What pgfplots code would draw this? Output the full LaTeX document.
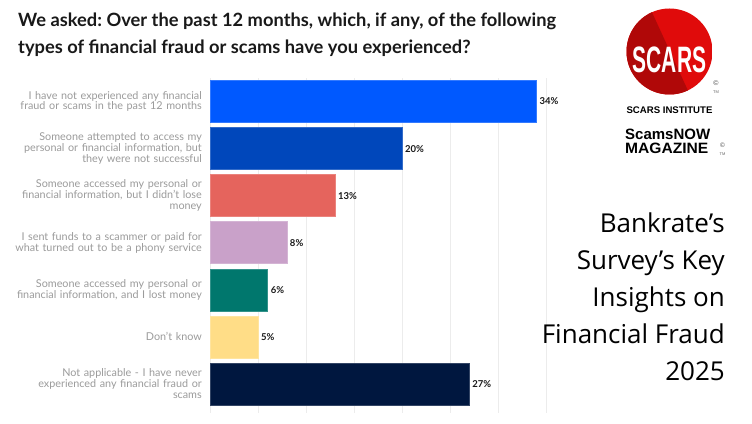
\documentclass[border=0pt]{standalone}
\usepackage{fontspec}
\setmainfont{Lato}
\newfontfamily\rfont{Open Sans}
\newfontfamily\lfont{Liberation Sans}
\usepackage{pgfplots}
\pgfplotsset{compat=1.18}
\frenchspacing
\definecolor{cA}{HTML}{0059FF}
\definecolor{cB}{HTML}{0047BB}
\definecolor{cC}{HTML}{E5645D}
\definecolor{cD}{HTML}{C9A1C9}
\definecolor{cE}{HTML}{00776D}
\definecolor{cF}{HTML}{FFDD87}
\definecolor{cG}{HTML}{00173F}
\definecolor{labgray}{HTML}{9B9B9B}
\definecolor{scarsred}{HTML}{E00B0B}
\definecolor{scarsdark}{HTML}{B00808}
\begin{document}
\begin{tikzpicture}[x=1pt,y=1pt]
\fill[white] (0,0) rectangle (752,423);
\path[use as bounding box] (0,0) rectangle (752,423);
\node[anchor=north west, align=left, inner sep=0pt, text=black!90, font=\bfseries\fontsize{18.3}{27}\selectfont] at (18,410) {We asked: Over the past 12 months, which, if any, of the following\\types of financial fraud or scams have you experienced?};
\begin{axis}[at={(210pt,10pt)}, anchor=south west, scale only axis,
  width=336pt, height=335pt,
  xbar, bar shift=0pt, bar width=42pt,
  xmin=0, xmax=35, ymin=-0.5, ymax=6.62, y dir=reverse,
  axis line style={draw=none},
  xtick={5,10,...,35}, xticklabels={}, major tick length=0pt,
  xmajorgrids, major grid style={draw=gray!15, line width=0.8pt},
  extra x ticks={0}, extra x tick labels={},
  extra x tick style={grid style={draw=gray!55, line width=1pt}},
  ytick={0,...,6},
  yticklabels={{I have not experienced any financial\\fraud or scams in the past 12 months},
    {Someone attempted to access my\\personal or financial information, but\\they were not successful},
    {Someone accessed my personal or\\financial information, but I didn't lose\\money},
    {I sent funds to a scammer or paid for\\what turned out to be a phony service},
    {Someone accessed my personal or\\financial information, and I lost money},
    {Don't know},
    {Not applicable - I have never\\experienced any financial fraud or\\scams}},
  yticklabel style={align=right, text width=200pt, text=labgray, font=\fontsize{10.8}{10.8}\selectfont, inner sep=0pt, xshift=-8pt},
  /pgf/number format/assume math mode=true,
  nodes near coords={\pgfmathprintnumber\pgfplotspointmeta\%},
  nodes near coords style={font=\bfseries\fontsize{9.5}{10}\selectfont, text=black!90, anchor=west, inner sep=3pt},
  clip=false]
\addplot[fill=cA, draw=cA!80!white] coordinates {(34,0)};
\addplot[fill=cB, draw=cB!80!white] coordinates {(20,1)};
\addplot[fill=cC, draw=cC!80!white] coordinates {(13,2)};
\addplot[fill=cD, draw=cD!80!white] coordinates {(8,3)};
\addplot[fill=cE, draw=cE!80!white] coordinates {(6,4)};
\addplot[fill=cF, draw=cF!80!white] coordinates {(5,5)};
\addplot[fill=cG, draw=cG!80!white] coordinates {(27,6)};
\end{axis}
% right text
\node[anchor=east, align=right, inner sep=0pt, font=\rfont\fontsize{26}{37}\selectfont] at (725,126) {Bankrate’s\\Survey’s Key\\Insights on\\Financial Fraud\\2025};
% logo
\begin{scope}
\clip (669.5,371.5) circle (43);
\fill[scarsred] (626,328) rectangle (713,415);
\fill[scarsdark] (620,415) -- (650,415) -- (690,328) -- (620,328) -- cycle;
\end{scope}
\node[text=white, inner sep=0pt] at (669.5,363.5) {\scalebox{0.6}[1.05]{\lfont\bfseries\fontsize{35}{35}\selectfont SCARS}};
\node[inner sep=0pt, font=\lfont\fontsize{7}{7}\selectfont, text=black!70] at (716,340) {©};
\node[inner sep=0pt, font=\lfont\fontsize{4}{4}\selectfont, text=black!60] at (716,331) {TM};
\node[inner sep=0pt, font=\lfont\bfseries\fontsize{9.6}{10}\selectfont] at (669.5,313) {SCARS INSTITUTE};
\node[anchor=base west, inner sep=0pt, font=\lfont\bfseries\fontsize{15}{15}\selectfont] at (625,283) {ScamsNOW};
\node[anchor=base west, inner sep=0pt, font=\lfont\bfseries\fontsize{15}{15}\selectfont] at (625,269.5) {\scalebox{1.04}[1]{MAGAZINE}};
\node[inner sep=0pt, font=\lfont\fontsize{6.5}{6.5}\selectfont, text=black!70] at (722.5,278) {©};
\node[inner sep=0pt, font=\lfont\fontsize{4}{4}\selectfont, text=black!60] at (722.5,268.5) {TM};
\end{tikzpicture}
\end{document}
